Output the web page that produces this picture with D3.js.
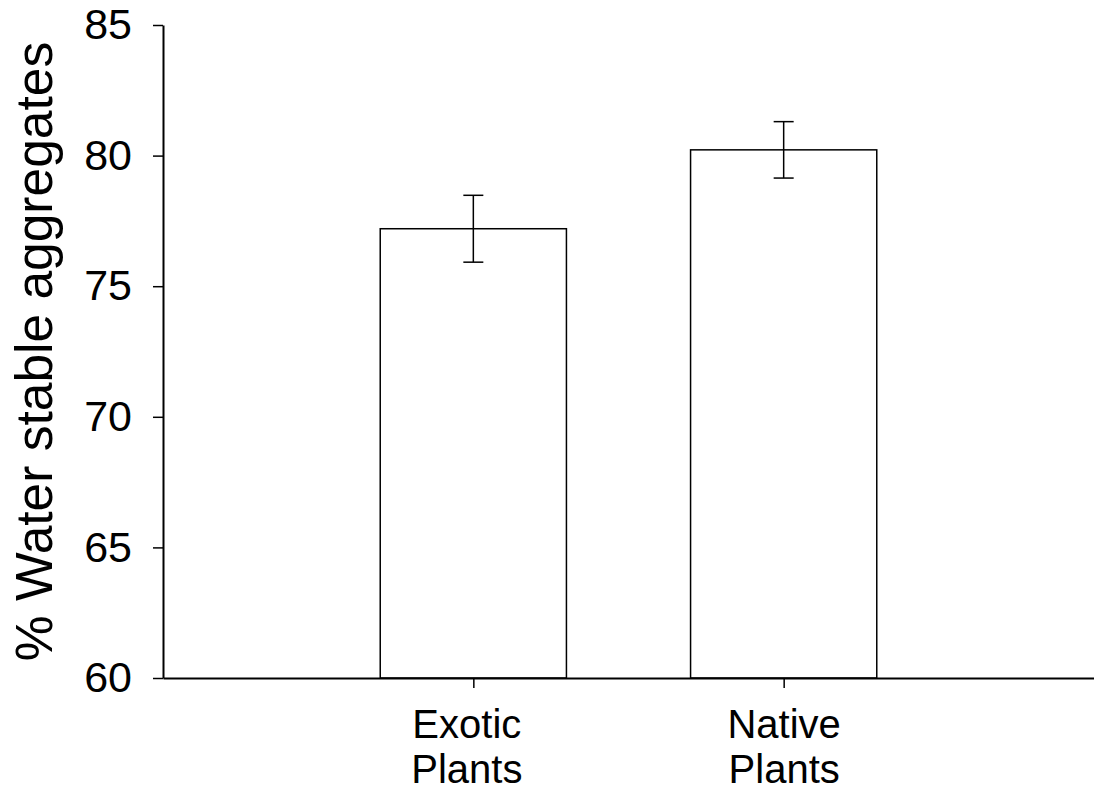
<!DOCTYPE html>
<html>
<head>
<meta charset="utf-8">
<script src="https://cdn.jsdelivr.net/npm/d3@7"></script>
<style>
  html, body { margin: 0; padding: 0; background: #fff; }
  svg { display: block; }
  text { font-family: "Liberation Sans", Arial, sans-serif; fill: #000; }
</style>
</head>
<body>
<svg id="chart" width="1094" height="793"></svg>
<script>
const categories = ["Exotic Plants", "Native Plants"];
const labelLines = [["Exotic", "Plants"], ["Native", "Plants"]];
const means = [77.2, 80.22];
const errors = [1.28, 1.08];
const yTicks = [60, 65, 70, 75, 80, 85];
const yTitle = "% Water stable aggregates";

const W = 1094, H = 793;
const margin = { left: 163, top: 25, right: 0, bottom: 115 };
const labelNudge = [-7, 0];
const svg = d3.select("#chart");
const x = d3.scalePoint().domain(categories).range([margin.left, W - margin.right]).padding(1);
const y = d3.scaleLinear().domain([60, 85]).range([H - margin.bottom, margin.top]);
const barW = x.step() * 0.6;

// bars
svg.append("g").selectAll("rect").data(categories).join("rect")
  .attr("x", d => x(d) - barW / 2)
  .attr("y", (d, i) => y(means[i]))
  .attr("width", barW)
  .attr("height", (d, i) => y(60) - y(means[i]))
  .attr("fill", "#fff").attr("stroke", "#000").attr("stroke-width", 1.5);

// error bars
const eg = svg.append("g").attr("stroke", "#000").attr("stroke-width", 1.5);
categories.forEach((c, i) => {
  const cx = x(c);
  const yt = y(means[i] + errors[i]), yb = y(means[i] - errors[i]);
  eg.append("line").attr("x1", cx).attr("x2", cx).attr("y1", yt).attr("y2", yb);
  eg.append("line").attr("x1", cx - 10).attr("x2", cx + 10).attr("y1", yt).attr("y2", yt);
  eg.append("line").attr("x1", cx - 10).attr("x2", cx + 10).attr("y1", yb).attr("y2", yb);
});

// y axis
const yAxis = svg.append("g").attr("transform", `translate(${margin.left},0)`)
  .call(d3.axisLeft(y).tickValues(yTicks).tickSize(10).tickPadding(21).tickSizeOuter(0));
yAxis.select(".domain").attr("stroke-width", 2);
yAxis.selectAll(".tick line").attr("stroke-width", 1.5);
yAxis.selectAll("text").attr("font-size", 43).attr("font-family", "Liberation Sans, Arial, sans-serif");

// x axis
const xAxis = svg.append("g").attr("transform", `translate(0,${y(60)})`)
  .call(d3.axisBottom(x).tickSize(10).tickSizeOuter(0).tickFormat(""));
xAxis.select(".domain").attr("stroke-width", 2);
xAxis.selectAll(".tick line").attr("stroke-width", 1.5);
xAxis.selectAll(".tick").each(function(d, i) {
  const t = d3.select(this).append("text")
    .attr("text-anchor", "middle").attr("font-size", 40)
    .attr("font-family", "Liberation Sans, Arial, sans-serif").attr("fill", "#000");
  labelLines[i].forEach((line, k) => {
    t.append("tspan").attr("x", labelNudge[i]).attr("y", 60 + k * 45).text(line);
  });
});

// y title
svg.append("text")
  .attr("transform", `translate(52,${(y(60) + y(85)) / 2}) rotate(-90)`)
  .attr("text-anchor", "middle").attr("font-size", 51.5)
  .text(yTitle);
</script>
</body>
</html>
